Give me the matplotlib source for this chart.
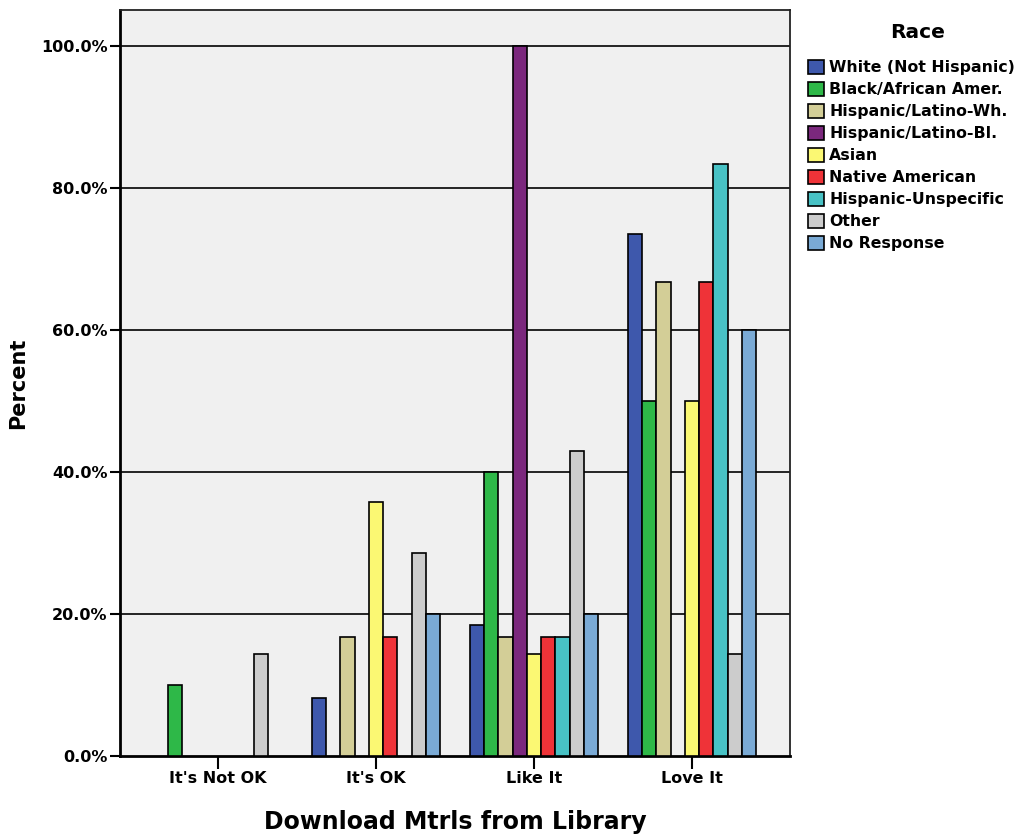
import numpy as np
import matplotlib
matplotlib.use("Agg")
import matplotlib.pyplot as plt
from matplotlib.patches import Patch

# data (percent within each race group)
categories = ["It's Not OK", "It's OK", "Like It", "Love It"]
races = ["White (Not Hispanic)", "Black/African Amer.", "Hispanic/Latino-Wh.",
         "Hispanic/Latino-Bl.", "Asian", "Native American",
         "Hispanic-Unspecific", "Other", "No Response"]

white = [0, 8.2, 18.4, 73.5]
black = [10.0, 0, 40.0, 50.0]
hisp_wh = [0, 16.7, 16.7, 66.7]
hisp_bl = [0, 0, 100.0, 0]
asian = [0, 35.7, 14.3, 50.0]
native = [0, 16.7, 16.7, 66.7]
hisp_unspec = [0, 0, 16.7, 83.3]
other = [14.3, 28.6, 42.9, 14.3]
no_response = [0, 20.0, 20.0, 60.0]

series = [white, black, hisp_wh, hisp_bl, asian, native, hisp_unspec, other, no_response]
colors = ["#3e58ac", "#2eb848", "#d3ce97", "#7b287d", "#fbf873",
          "#ef3338", "#48c2c5", "#cccccc", "#7aaad5"]

plt.rcParams['font.family'] = ['DejaVu Sans']

fig = plt.figure(figsize=(10.21, 8.38), dpi=100)
ax = fig.add_axes([120 / 1021, 82 / 838, 670 / 1021, 746 / 838])
ax.set_facecolor("#f0f0f0")

x = np.arange(len(categories))
bw = 0.09
n = len(series)
for i, (vals, col) in enumerate(zip(series, colors)):
    offs = (i - (n - 1) / 2) * bw
    for xi, v in zip(x, vals):
        if v > 0:
            ax.bar(xi + offs, v, width=bw, color=col, edgecolor="black",
                   linewidth=1.2, zorder=3)

ax.set_xlim(-0.62, 3.62)
ax.set_ylim(0, 105)
ax.set_yticks([0, 20, 40, 60, 80, 100])
ax.set_yticklabels(["%.1f%%" % v for v in [0, 20, 40, 60, 80, 100]],
                   fontsize=11.5, fontweight="bold")
ax.set_xticks(x)
ax.set_xticklabels(categories, fontsize=11.5, fontweight="bold")
ax.tick_params(axis="y", length=7, width=1.5, pad=2)
ax.tick_params(axis="x", length=9, width=1.5, pad=2)

for yv in [20, 40, 60, 80, 100]:
    ax.axhline(yv, color="black", linewidth=1.2, zorder=1)

for side in ["left", "bottom"]:
    ax.spines[side].set_linewidth(2)
for side in ["top", "right"]:
    ax.spines[side].set_linewidth(1.3)
    ax.spines[side].set_color("#222222")

ax.set_ylabel("Percent", fontsize=15, fontweight="bold", labelpad=9)
ax.set_xlabel("Download Mtrls from Library", fontsize=17, fontweight="bold",
              labelpad=17)

fig.text(918 / 1021, 1 - 33 / 838, "Race", fontsize=14.5, fontweight="bold",
         ha="center", va="center")
handles = [Patch(facecolor=c, edgecolor="black", linewidth=1.2) for c in colors]
leg = fig.legend(handles, races, loc="upper left",
                 bbox_to_anchor=(808 / 1021, 1 - 60 / 838), frameon=False,
                 prop={"weight": "bold", "size": 11.3},
                 handlelength=1.0, handleheight=1.0, handletextpad=0.35,
                 labelspacing=0.42, borderaxespad=0, borderpad=0)

fig.savefig("out.png", dpi=100)
